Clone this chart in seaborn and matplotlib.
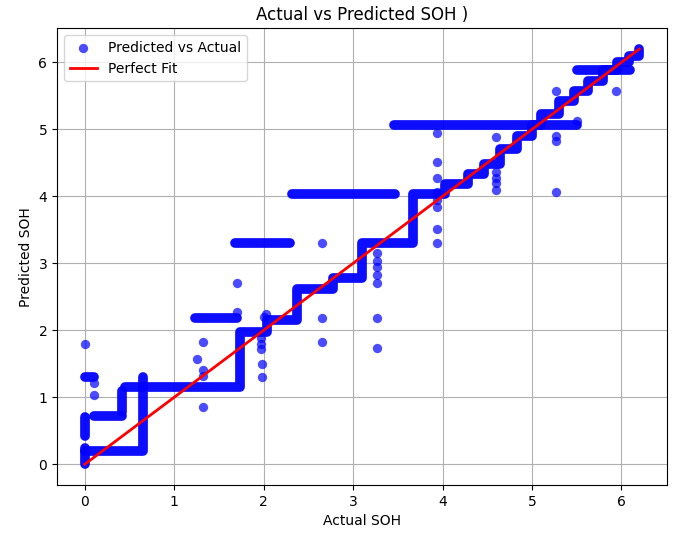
import matplotlib
matplotlib.use("Agg")
import matplotlib.pyplot as plt
import seaborn as sns
import pandas as pd

# Main staircase of dense predictions (step levels, drawn 'post')
step_x = [0.0, 0.65, 1.74, 2.04, 2.37, 2.77, 3.10, 3.67, 4.03, 4.29, 4.46, 4.64,
          4.83, 5.00, 5.10, 5.30, 5.47, 5.63, 5.79, 5.95, 6.09, 6.20]
step_y = [0.20, 1.15, 1.97, 2.15, 2.62, 2.78, 3.30, 4.04, 4.19, 4.33, 4.49, 4.70,
          4.90, 5.07, 5.23, 5.42, 5.57, 5.72, 5.88, 6.00, 6.10, 6.20]

# Other dense runs of points (start / end of each run)
run_x0 = [0.00, 0.00, 0.10, 0.42, 0.45, 1.23, 1.68, 2.32, 3.46, 5.50, 0.00, 0.65]
run_x1 = [0.00, 0.00, 0.42, 0.42, 0.65, 1.70, 2.30, 3.47, 5.50, 6.10, 0.10, 0.65]
run_y0 = [0.00, 0.42, 0.72, 0.78, 1.15, 2.18, 3.30, 4.04, 5.07, 5.88, 1.30, 1.15]
run_y1 = [0.25, 0.70, 0.72, 1.10, 1.15, 2.18, 3.30, 4.04, 5.07, 5.88, 1.30, 1.30]

# Isolated points
pt_actual = [0.00, 0.10, 0.10, 1.32, 1.25, 1.32, 1.32, 1.32, 1.70, 1.70,
             2.00, 2.03, 1.97, 1.97, 1.97, 1.98, 1.98,
             2.65, 2.65, 2.65,
             3.27, 3.27, 3.27, 3.27, 3.27, 3.27, 3.27,
             3.94, 3.94, 3.94, 3.94, 3.94, 3.94, 3.94, 3.94,
             4.60, 4.60, 4.60, 4.60, 4.60,
             5.27, 5.27, 5.27, 5.27, 5.50, 5.94]
pt_pred = [1.80, 1.22, 1.03, 1.82, 1.57, 1.40, 1.32, 0.85, 2.27, 2.70,
           2.20, 2.25, 1.88, 1.80, 1.72, 1.50, 1.30,
           3.30, 2.19, 1.82,
           3.15, 3.04, 2.94, 2.82, 2.70, 2.19, 1.73,
           4.95, 4.51, 4.27, 4.06, 3.95, 3.84, 3.52, 3.31,
           4.88, 4.36, 4.28, 4.20, 4.09,
           5.58, 4.90, 4.82, 4.06, 5.13, 5.58]

fit_line = [0.0, 6.2]

fig = plt.figure(figsize=(6.92, 5.33), dpi=100)
ax = fig.add_axes([0.0824, 0.090, 0.8815, 0.857])

df = pd.DataFrame({"Actual": pt_actual, "Predicted": pt_pred})
sns.scatterplot(data=df, x="Actual", y="Predicted", color="blue", alpha=0.7,
                s=45, linewidth=0, label="Predicted vs Actual", ax=ax, zorder=3)

run_kw = dict(color="blue", alpha=0.95, lw=7, solid_capstyle="round",
              solid_joinstyle="round", zorder=3)
ax.step(step_x, step_y, where="post", **run_kw)
for x0, x1, y0, y1 in zip(run_x0, run_x1, run_y0, run_y1):
    ax.plot([x0, x1], [y0, y1], **run_kw)

ax.plot(fit_line, fit_line, color="red", lw=2, label="Perfect Fit", zorder=4)

ax.set_xlim(-0.31, 6.51)
ax.set_ylim(-0.31, 6.51)
ax.set_xlabel("Actual SOH")
ax.set_ylabel("Predicted SOH")
ax.set_title("Actual vs Predicted SOH )")
ax.grid(True)
ax.set_axisbelow(True)
ax.legend(loc="upper left")

fig.savefig("out.png", dpi=100)
